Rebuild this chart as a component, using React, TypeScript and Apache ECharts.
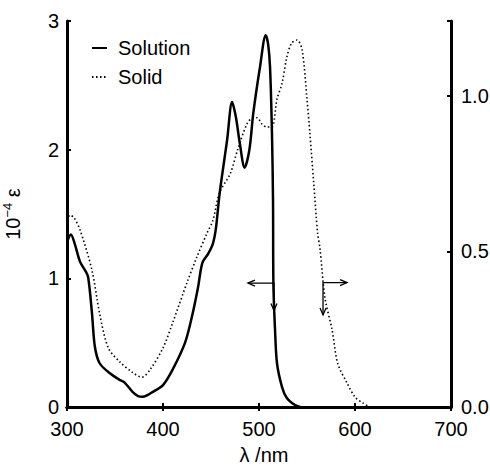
import React, { useEffect, useRef } from 'react';
import * as echarts from 'echarts';

const solutionLambda = [300, 304, 308, 313.5, 319, 322, 326, 329, 334, 345, 355, 360, 368, 374, 379, 390, 400, 410, 423, 431, 436.5, 441, 447, 452, 455, 459, 466.7, 472, 476, 480, 485, 490, 494, 501, 507, 509.5, 511.5, 513.5, 514.6, 515, 516.7, 518.75, 524, 529, 537.5, 543];
const solutionEps = [1.28, 1.34, 1.27, 1.13, 1.06, 1.01, 0.73, 0.47, 0.34, 0.26, 0.21, 0.19, 0.12, 0.085, 0.08, 0.12, 0.17, 0.29, 0.5, 0.73, 0.93, 1.12, 1.19, 1.27, 1.38, 1.66, 2.07, 2.37, 2.25, 2.05, 1.86, 2.0, 2.28, 2.64, 2.89, 2.82, 2.64, 2.13, 1.61, 0.96, 0.6, 0.34, 0.155, 0.07, 0.015, 0];

const solidLambda = [300, 303, 307, 313.5, 326, 334, 343, 355, 368.75, 378, 386.5, 400, 410, 425, 435, 446, 452, 459, 470, 478, 487.5, 494, 498, 503, 508, 513.5, 518.75, 524, 529, 534, 539.6, 544.8, 550, 553, 557, 561, 563.5, 568.75, 576, 582, 591.7, 600, 608, 615.6];
const solidAbs = [0.6, 0.617, 0.61, 0.57, 0.44, 0.3, 0.19, 0.145, 0.11, 0.096, 0.12, 0.19, 0.27, 0.4, 0.48, 0.56, 0.6, 0.69, 0.75, 0.83, 0.91, 0.93, 0.93, 0.91, 0.9, 0.9, 0.99, 1.04, 1.125, 1.17, 1.18, 1.15, 0.99, 0.88, 0.72, 0.56, 0.51, 0.35, 0.25, 0.14, 0.077, 0.032, 0.013, 0];

const leftTicks = ['0', '1', '2', '3'];
const rightTicks = ['0.0', '0.5', '1.0'];

const FONT = 'Liberation Sans, Arial, sans-serif';

export default function App() {
  const ref = useRef<HTMLDivElement>(null);
  useEffect(() => {
    if (!ref.current) return;
    const chart = echarts.init(ref.current, null, { renderer: 'svg' });
    const axisLine = { show: true, lineStyle: { color: '#000', width: 3 } };
    const tick = { show: true, inside: true, length: 4, lineStyle: { color: '#000', width: 2 } };
    const label = { color: '#000', fontSize: 20, fontFamily: FONT };
    chart.setOption({
      animation: false,
      backgroundColor: '#fff',
      grid: { left: 67, right: 39, top: 21, bottom: 61, containLabel: false, outerBoundsMode: 'none' },
      legend: {
        orient: 'vertical',
        left: 91,
        top: 38,
        itemWidth: 15,
        itemHeight: 12,
        itemGap: 9,
        padding: 0,
        itemStyle: { opacity: 0 },
        textStyle: { color: '#000', fontSize: 20, fontFamily: FONT, padding: [0, 0, 0, 6] },
        data: ['Solution', 'Solid'],
      },
      xAxis: [
        {
          type: 'value', min: 300, max: 700, interval: 100,
          axisLine, axisTick: tick, splitLine: { show: false },
          axisLabel: { ...label, margin: 12 },
          name: 'λ /nm', nameLocation: 'middle', nameGap: 38,
          nameTextStyle: { color: '#000', fontSize: 20, lineHeight: 20, fontFamily: FONT, padding: [0, 0, 0, 10] },
        },
        {
          type: 'value', min: 300, max: 700, interval: 100, position: 'top',
          axisLine, axisTick: tick, splitLine: { show: false }, axisLabel: { show: false },
        },
      ],
      yAxis: [
        {
          type: 'value', min: 0, max: 3, interval: 1,
          axisLine, axisTick: tick, splitLine: { show: false },
          axisLabel: { ...label, margin: 8, formatter: (v: number) => leftTicks[Math.round(v)] ?? '' },
          name: '{n|10}{s|−4}{n| ε}', nameLocation: 'middle', nameGap: 44, nameRotate: 90,
          nameTextStyle: {
            color: '#000', fontFamily: FONT,
            rich: {
              n: { fontSize: 20, fontFamily: FONT, color: '#000', lineHeight: 22, verticalAlign: 'bottom' },
              s: { fontSize: 13, fontFamily: FONT, color: '#000', lineHeight: 22, verticalAlign: 'top' },
            },
          },
        },
        {
          type: 'value', min: 0, max: 1.241, interval: 0.5, position: 'right',
          axisLine, axisTick: tick, splitLine: { show: false },
          axisLabel: {
            ...label, margin: 10,
            formatter: (v: number) => {
              const i = Math.round(v / 0.5);
              return Math.abs(v - i * 0.5) < 1e-6 ? (rightTicks[i] ?? '') : '';
            },
          },
        },
      ],
      series: [
        {
          name: 'Solution', type: 'line', xAxisIndex: 0, yAxisIndex: 0,
          data: solutionLambda.map((x, i) => [x, solutionEps[i]]),
          showSymbol: false, symbol: 'none', smooth: 0.3,
          lineStyle: { color: '#000', width: 2.5, type: 'solid' },
          itemStyle: { color: '#000' },
        },
        {
          name: 'Solid', type: 'line', xAxisIndex: 0, yAxisIndex: 1,
          data: solidLambda.map((x, i) => [x, solidAbs[i]]),
          showSymbol: false, symbol: 'none', smooth: 0.3,
          lineStyle: { color: '#000', width: 1.6, type: [1.5, 2.5] },
          itemStyle: { color: '#000' },
        },
      ],
    });

    // arrows indicating which axis each curve belongs to
    const pL = (x: number, y: number) => chart.convertToPixel({ xAxisIndex: 0, yAxisIndex: 0 }, [x, y]) as number[];
    const pR = (x: number, y: number) => chart.convertToPixel({ xAxisIndex: 0, yAxisIndex: 1 }, [x, y]) as number[];
    const a1 = pL(488.5, 0.963), b1 = pL(515.6, 0.963), c1 = pL(515.6, 0.75);
    const a2 = pR(591.7, 0.4), b2 = pR(566.7, 0.4), c2 = pR(566.7, 0.296);
    const st = { stroke: '#000', lineWidth: 1.3, fill: null };
    const head = (tip: number[], dx: number, dy: number) => ({
      type: 'polyline',
      shape: {
        points: dx !== 0
          ? [[tip[0] + dx * 7, tip[1] - 3], tip, [tip[0] + dx * 7, tip[1] + 3]]
          : [[tip[0] - 3, tip[1] + dy * 7], tip, [tip[0] + 3, tip[1] + dy * 7]],
      },
      style: st,
    });
    chart.setOption({
      graphic: [
        { type: 'polyline', shape: { points: [a1, b1, c1] }, style: st },
        head(a1, 1, 0),
        head(c1, 0, -1),
        { type: 'polyline', shape: { points: [a2, b2, c2] }, style: st },
        head(a2, -1, 0),
        head(c2, 0, -1),
      ],
    });
    return () => chart.dispose();
  }, []);
  return <div ref={ref} style={{ position: 'absolute', left: 0, top: 0, width: 490, height: 468, background: '#fff' }} />;
}
